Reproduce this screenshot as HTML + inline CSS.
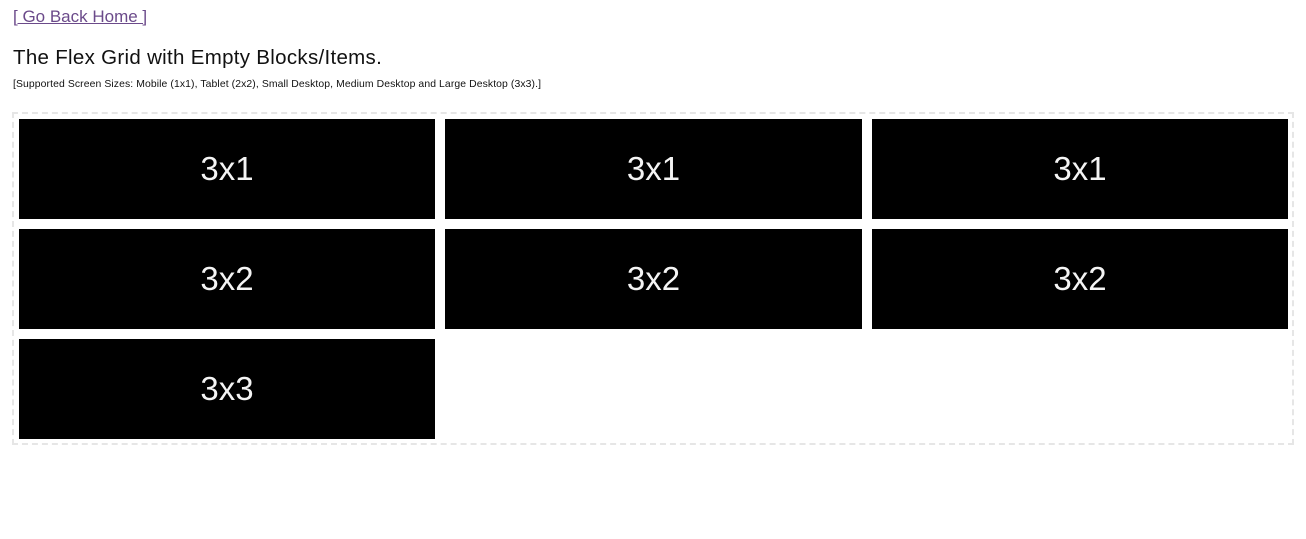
<!DOCTYPE html>
<html><head><meta charset="utf-8"><style>
body{margin:0;background:#fff;font-family:"Liberation Sans",sans-serif;color:#111;width:1306px;height:539px;overflow:hidden;position:relative}
a{position:absolute;left:13px;top:7px;font-size:17px;color:#6b4a8a;text-decoration:underline}
h1{position:absolute;left:13px;top:46px;margin:0;font-size:20.5px;font-weight:normal;letter-spacing:0.3px}
p{position:absolute;left:13px;top:79px;margin:0;font-size:10.4px;letter-spacing:0.1px}
.grid{position:absolute;left:12px;top:112px;width:1278px;height:329px;border:2px dashed #e6e6e6}
.b{position:absolute;width:416px;height:100px;background:#000;color:#f4f4f4;font-size:33px;display:flex;align-items:center;justify-content:center;font-weight:300}
</style></head><body>
<a href="#">[ Go Back Home ]</a>
<h1>The Flex Grid with Empty Blocks/Items.</h1>
<p>[Supported Screen Sizes: Mobile (1x1), Tablet (2x2), Small Desktop, Medium Desktop and Large Desktop (3x3).]</p>
<div class="grid">
<div class="b" style="left:5px;top:5px">3x1</div>
<div class="b" style="left:431px;top:5px;width:417px">3x1</div>
<div class="b" style="left:858px;top:5px">3x1</div>
<div class="b" style="left:5px;top:115px">3x2</div>
<div class="b" style="left:431px;top:115px;width:417px">3x2</div>
<div class="b" style="left:858px;top:115px">3x2</div>
<div class="b" style="left:5px;top:225px">3x3</div>
</div>
</body></html>
